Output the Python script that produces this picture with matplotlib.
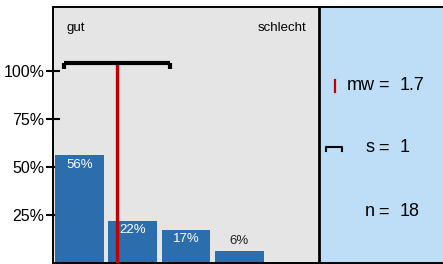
import numpy as np
from matplotlib import pyplot as plt

plt.rcParams['font.family'] = ['Liberation Sans', 'DejaVu Sans']

# Verteilung der Noten 1..5 (Anteile in %)
grades = [1, 2, 3, 4, 5]
shares = [56, 22, 17, 6, 0]
mw = 1.7   # Mittelwert
s = 1      # Standardabweichung
n = 18

bar_col = '#2B6DAD'
red = '#C00000'

fig = plt.figure(figsize=(4.43, 2.64), dpi=100)
ax = fig.add_axes([53/443, 1/264, 266/443, 256/264], facecolor='#E5E5E5')

ax.bar(grades, shares, width=0.92, color=bar_col, zorder=2)
for g, v in zip(grades, shares):
    if v == 0:
        continue
    if v > 10:
        ax.text(g, v - 4.7, f'{v}%', ha='center', va='center', color='white', fontsize=9.5, zorder=3)
    else:
        ax.text(g, v + 5.5, f'{v}%', ha='center', va='center', color='#222222', fontsize=9.5, zorder=3)

# Mittelwert und Streuung
ax.plot([mw, mw], [0, 104.2], color=red, lw=2.4, zorder=4, solid_capstyle='butt')
ax.plot([mw - s, mw + s], [104.2, 104.2], color='black', lw=3, zorder=5, solid_capstyle='butt')
for xe in [mw - s, mw + s]:
    ax.plot([xe, xe], [101, 104.2], color='black', lw=3, zorder=5, solid_capstyle='butt')

ax.set_xlim(0.5, 5.5)
ax.set_ylim(0, 256/1.92)
ax.set_xticks([])
ax.set_yticks([25, 50, 75, 100])
ax.set_yticklabels(['25%', '50%', '75%', '100%'], fontsize=11.5)
ax.tick_params(axis='y', direction='inout', length=10, width=1.5, pad=1)
for sp in ax.spines.values():
    sp.set_linewidth(1.4)
ax.spines['right'].set_linewidth(2)

ax.text(0.049, 0.918, 'gut', transform=ax.transAxes, ha='left', va='center', fontsize=9.5)
ax.text(0.951, 0.918, 'schlecht', transform=ax.transAxes, ha='right', va='center', fontsize=9.5)

# Kennwerte rechts
ax2 = fig.add_axes([319/443, 1/264, 124/443, 256/264], facecolor='#BDDEF6')
ax.set_zorder(ax2.get_zorder() + 1)
ax2.set_xlim(0, 124)
ax2.set_ylim(0, 256/1.92)
ax2.set_xticks([])
ax2.set_yticks([])
ax2.spines['left'].set_visible(False)
ax2.spines['right'].set_visible(False)
ax2.spines['top'].set_linewidth(1.4)
ax2.spines['bottom'].set_linewidth(1.4)

ax2.plot([16, 16], [89, 95.3], color=red, lw=1.6)
ax2.plot([7, 7, 23, 23], [58.2, 60.4, 60.4, 58.2], color='black', lw=1.5)

stats = [('mw', '1.7', 92.7), ('s', '1', 59.9), ('n', '18', 26.6)]
for lab, val, yy in stats:
    ax2.text(55.5, yy, lab, ha='right', va='center', fontsize=13)
    ax2.text(64.5, yy, '=', ha='center', va='center', fontsize=13)
    ax2.text(81, yy, val, ha='left', va='center', fontsize=13)

fig.savefig('out.png', dpi=100)
